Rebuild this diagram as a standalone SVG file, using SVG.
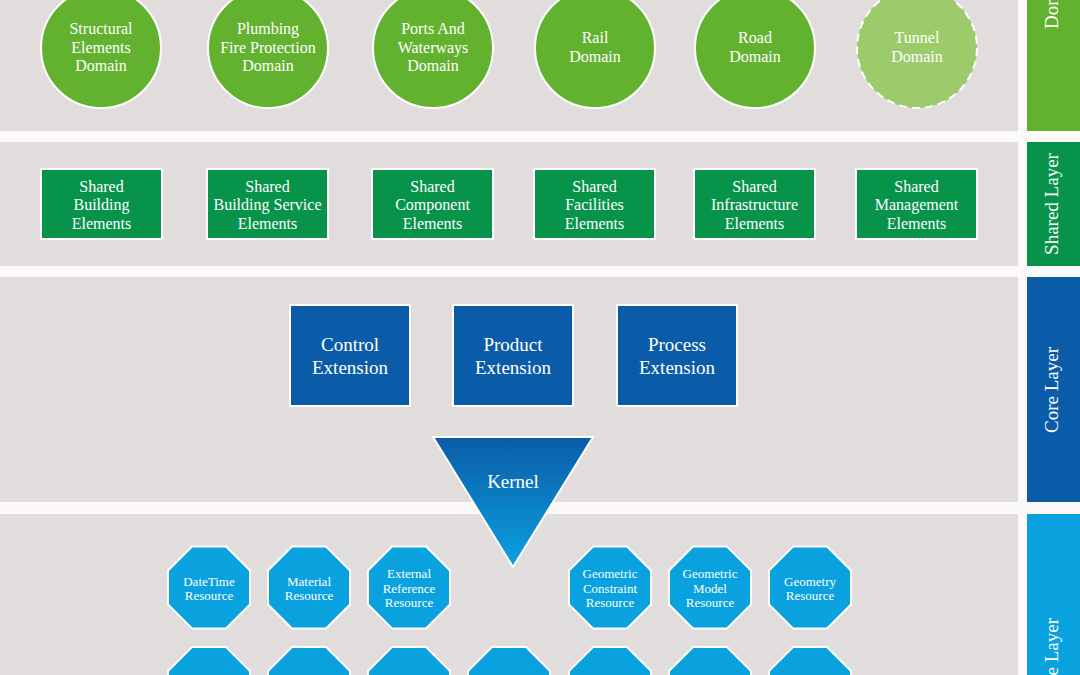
<svg xmlns="http://www.w3.org/2000/svg" xmlns:xlink="http://www.w3.org/1999/xlink" width="1080" height="675" viewBox="0 0 1080 675">
<style>
.band{fill:#e1dddd}
.lbl{font-family:"Liberation Serif","Times New Roman",serif;fill:#ffffff;text-anchor:middle}
.dom{fill:#63b22f;stroke:#ffffff;stroke-width:2}
.tun{fill:#9dcb6b;stroke:#ffffff;stroke-width:2;stroke-dasharray:8 5}
.shr{fill:#07934a;stroke:#ffffff;stroke-width:2}
.core{fill:#0b5ca8;stroke:#ffffff;stroke-width:2}
.res{fill:#0aa1df;stroke:#ffffff;stroke-width:2}
.t16{font-size:16px}
.t19{font-size:19px}
.t13{font-size:13px}
.side{font-family:"Liberation Serif","Times New Roman",serif;fill:#ffffff;font-size:19px}
</style>
<defs>
<polygon id="oct" points="-17,-41 17,-41 41,-17 41,17 17,41 -17,41 -41,17 -41,-17"/>
<linearGradient id="kg" x1="0" y1="0" x2="0" y2="1">
<stop offset="0" stop-color="#0b5ca8"/>
<stop offset="1" stop-color="#0aa1df"/>
</linearGradient>
</defs>
<rect x="0" y="0" width="1080" height="675" fill="#fbfaf9"/>
<g id="bands">
<rect class="band" x="0" y="-10" width="1018" height="141"/>
<rect class="band" x="0" y="142" width="1018" height="124"/>
<rect class="band" x="0" y="277" width="1018" height="225"/>
<rect class="band" x="0" y="514" width="1018" height="171"/>
</g>
<g id="layer-labels">
<rect x="1027" y="-10" width="60" height="141" fill="#63b22f"/>
<text class="side" transform="translate(1058,29) rotate(-90)">Domain Layer</text>
<rect x="1027" y="142" width="60" height="124" fill="#07934a"/>
<text class="side" text-anchor="middle" transform="translate(1058,204) rotate(-90)">Shared Layer</text>
<rect x="1027" y="277" width="60" height="225" fill="#0b5ca8"/>
<text class="side" text-anchor="middle" transform="translate(1058,390) rotate(-90)">Core Layer</text>
<rect x="1027" y="514" width="60" height="171" fill="#0aa1df"/>
<text class="side" text-anchor="end" transform="translate(1058,618) rotate(-90)">Resource Layer</text>
</g>
<g id="connectors"/>
<g id="structural-elements-domain">
<circle class="dom" cx="101" cy="48" r="60"/>
<text class="lbl t16"><tspan x="101" y="34">Structural</tspan><tspan x="101" y="52.6">Elements</tspan><tspan x="101" y="71.2">Domain</tspan></text>
</g>
<g id="plumbing-fire-protection-domain">
<circle class="dom" cx="268" cy="48" r="60"/>
<text class="lbl t16"><tspan x="268" y="34">Plumbing</tspan><tspan x="268" y="52.6">Fire Protection</tspan><tspan x="268" y="71.2">Domain</tspan></text>
</g>
<g id="ports-and-waterways-domain">
<circle class="dom" cx="433" cy="48" r="60"/>
<text class="lbl t16"><tspan x="433" y="34">Ports And</tspan><tspan x="433" y="52.6">Waterways</tspan><tspan x="433" y="71.2">Domain</tspan></text>
</g>
<g id="rail-domain">
<circle class="dom" cx="595" cy="48" r="60"/>
<text class="lbl t16"><tspan x="595" y="43.3">Rail</tspan><tspan x="595" y="61.9">Domain</tspan></text>
</g>
<g id="road-domain">
<circle class="dom" cx="755" cy="48" r="60"/>
<text class="lbl t16"><tspan x="755" y="43.3">Road</tspan><tspan x="755" y="61.9">Domain</tspan></text>
</g>
<g id="tunnel-domain">
<circle class="tun" cx="917" cy="48" r="60"/>
<text class="lbl t16"><tspan x="917" y="43.3">Tunnel</tspan><tspan x="917" y="61.9">Domain</tspan></text>
</g>
<g id="shared-building-elements">
<rect class="shr" x="41" y="169" width="121" height="70"/>
<text class="lbl t16"><tspan x="101.5" y="191.5">Shared</tspan><tspan x="101.5" y="210">Building</tspan><tspan x="101.5" y="228.5">Elements</tspan></text>
</g>
<g id="shared-building-service-elements">
<rect class="shr" x="207" y="169" width="121" height="70"/>
<text class="lbl t16"><tspan x="267.5" y="191.5">Shared</tspan><tspan x="267.5" y="210">Building Service</tspan><tspan x="267.5" y="228.5">Elements</tspan></text>
</g>
<g id="shared-component-elements">
<rect class="shr" x="372" y="169" width="121" height="70"/>
<text class="lbl t16"><tspan x="432.5" y="191.5">Shared</tspan><tspan x="432.5" y="210">Component</tspan><tspan x="432.5" y="228.5">Elements</tspan></text>
</g>
<g id="shared-facilities-elements">
<rect class="shr" x="534" y="169" width="121" height="70"/>
<text class="lbl t16"><tspan x="594.5" y="191.5">Shared</tspan><tspan x="594.5" y="210">Facilities</tspan><tspan x="594.5" y="228.5">Elements</tspan></text>
</g>
<g id="shared-infrastructure-elements">
<rect class="shr" x="694" y="169" width="121" height="70"/>
<text class="lbl t16"><tspan x="754.5" y="191.5">Shared</tspan><tspan x="754.5" y="210">Infrastructure</tspan><tspan x="754.5" y="228.5">Elements</tspan></text>
</g>
<g id="shared-management-elements">
<rect class="shr" x="856" y="169" width="121" height="70"/>
<text class="lbl t16"><tspan x="916.5" y="191.5">Shared</tspan><tspan x="916.5" y="210">Management</tspan><tspan x="916.5" y="228.5">Elements</tspan></text>
</g>
<g id="control-extension">
<rect class="core" x="290" y="305" width="120" height="101"/>
<text class="lbl t19"><tspan x="350" y="351">Control</tspan><tspan x="350" y="374">Extension</tspan></text>
</g>
<g id="product-extension">
<rect class="core" x="453" y="305" width="120" height="101"/>
<text class="lbl t19"><tspan x="513" y="351">Product</tspan><tspan x="513" y="374">Extension</tspan></text>
</g>
<g id="process-extension">
<rect class="core" x="617" y="305" width="120" height="101"/>
<text class="lbl t19"><tspan x="677" y="351">Process</tspan><tspan x="677" y="374">Extension</tspan></text>
</g>
<g id="kernel">
<polygon points="433,437 593,437 513,567" fill="url(#kg)" stroke="#ffffff" stroke-width="2"/>
<text class="lbl t19" x="513" y="488">Kernel</text>
</g>
<g id="datetime-resource">
<use xlink:href="#oct" href="#oct" class="res" x="209" y="587.5"/>
<text class="lbl t13"><tspan x="209" y="585.7">DateTime</tspan><tspan x="209" y="600.3">Resource</tspan></text>
</g>
<g id="material-resource">
<use xlink:href="#oct" href="#oct" class="res" x="309" y="587.5"/>
<text class="lbl t13"><tspan x="309" y="585.7">Material</tspan><tspan x="309" y="600.3">Resource</tspan></text>
</g>
<g id="external-reference-resource">
<use xlink:href="#oct" href="#oct" class="res" x="409" y="587.5"/>
<text class="lbl t13"><tspan x="409" y="578">External</tspan><tspan x="409" y="592.7">Reference</tspan><tspan x="409" y="607.4">Resource</tspan></text>
</g>
<g id="geometric-constraint-resource">
<use xlink:href="#oct" href="#oct" class="res" x="610" y="587.5"/>
<text class="lbl t13"><tspan x="610" y="578">Geometric</tspan><tspan x="610" y="592.7">Constraint</tspan><tspan x="610" y="607.4">Resource</tspan></text>
</g>
<g id="geometric-model-resource">
<use xlink:href="#oct" href="#oct" class="res" x="710" y="587.5"/>
<text class="lbl t13"><tspan x="710" y="578">Geometric</tspan><tspan x="710" y="592.7">Model</tspan><tspan x="710" y="607.4">Resource</tspan></text>
</g>
<g id="geometry-resource">
<use xlink:href="#oct" href="#oct" class="res" x="810" y="587.5"/>
<text class="lbl t13"><tspan x="810" y="585.7">Geometry</tspan><tspan x="810" y="600.3">Resource</tspan></text>
</g>
<g id="resource-row2-1"><use xlink:href="#oct" href="#oct" class="res" x="209" y="688"/></g>
<g id="resource-row2-2"><use xlink:href="#oct" href="#oct" class="res" x="309" y="688"/></g>
<g id="resource-row2-3"><use xlink:href="#oct" href="#oct" class="res" x="409" y="688"/></g>
<g id="resource-row2-4"><use xlink:href="#oct" href="#oct" class="res" x="509" y="688"/></g>
<g id="resource-row2-5"><use xlink:href="#oct" href="#oct" class="res" x="610" y="688"/></g>
<g id="resource-row2-6"><use xlink:href="#oct" href="#oct" class="res" x="710" y="688"/></g>
<g id="resource-row2-7"><use xlink:href="#oct" href="#oct" class="res" x="810" y="688"/></g>
</svg>
